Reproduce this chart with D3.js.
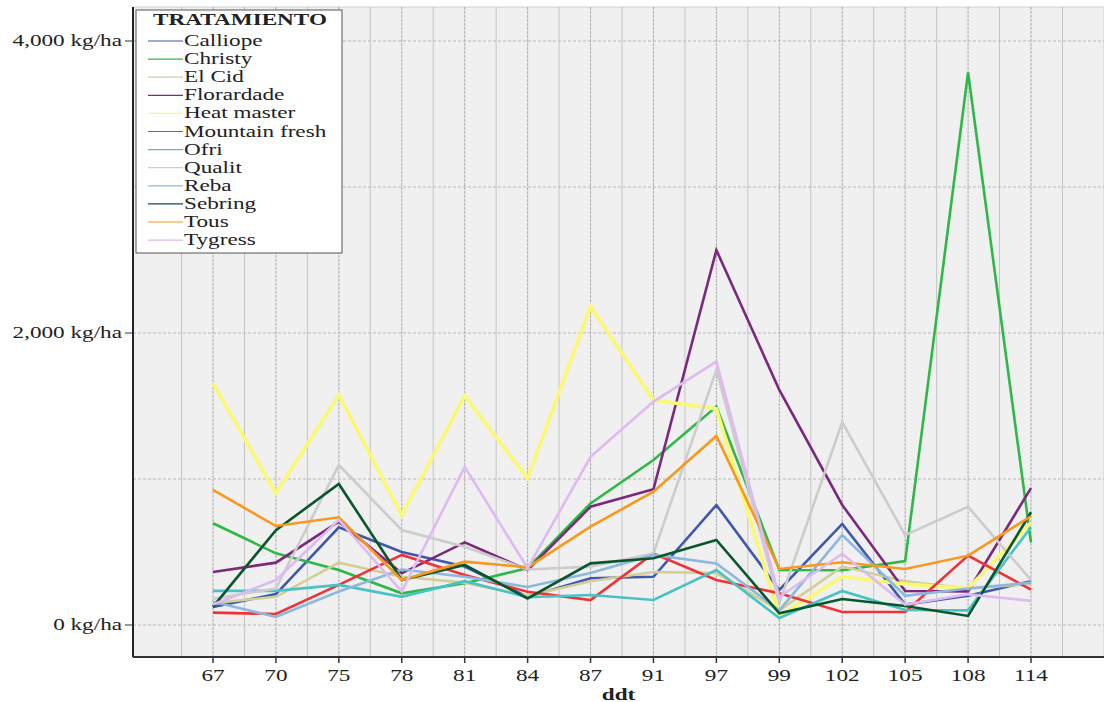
<!DOCTYPE html>
<html>
<head>
<meta charset="utf-8">
<script src="https://cdn.jsdelivr.net/npm/d3@7"></script>
<style>
  body { margin: 0; background: #fff; }
  text { font-family: "Liberation Serif", "Times New Roman", serif; }
</style>
</head>
<body>
<div id="chart"></div>
<script>
// ddt categories (x axis)
const ddt = ["67", "70", "75", "78", "81", "84", "87", "91", "97", "99", "102", "105", "108", "114"];

// kg/ha per tratamiento
const calliope     = [124, 212, 669, 500, 400, 192, 320, 330, 822, 240, 692, 140, 200, 300];
const christy      = [697, 491, 377, 217, 286, 390, 833, 1130, 1496, 377, 375, 438, 3784, 565];
const elCid        = [150, 193, 427, 330, 290, 200, 300, 363, 356, 100, 400, 300, 250, 280];
const florardade   = [363, 427, 708, 354, 566, 377, 810, 930, 2568, 1610, 822, 233, 230, 938];
const heatMaster   = [1655, 903, 1575, 753, 1570, 1005, 2180, 1541, 1480, 60, 330, 280, 250, 700];
const mountainFr   = [85, 75, 275, 480, 342, 228, 171, 490, 308, 218, 89, 89, 475, 243];
const ofri         = [234, 234, 275, 193, 300, 190, 205, 171, 377, 48, 233, 103, 100, 670];
const qualit       = [180, 250, 1096, 650, 536, 380, 400, 490, 1747, 150, 1390, 616, 810, 308];
const reba         = [160, 55, 229, 380, 330, 260, 356, 480, 422, 100, 616, 200, 250, 290];
const sebring      = [124, 650, 966, 308, 411, 182, 422, 457, 582, 80, 178, 130, 62, 772];
const tous         = [925, 678, 738, 308, 434, 395, 674, 913, 1295, 384, 430, 384, 475, 745];
const tygress      = [140, 308, 720, 229, 1083, 390, 1152, 1530, 1804, 192, 488, 140, 210, 165];

const names  = ["Calliope", "Christy", "El Cid", "Florardade", "Heat master", "Mountain fresh",
                "Ofri", "Qualit", "Reba", "Sebring", "Tous", "Tygress"];
const colors = ["#3E58AC", "#2EB848", "#D3CE97", "#7C287D", "#FBF873", "#EF3338",
                "#48C2C5", "#CCCCCC", "#8DB8DE", "#0A562C", "#F8981D", "#DDBAF1"];
const values = [calliope, christy, elCid, florardade, heatMaster, mountainFr,
                ofri, qualit, reba, sebring, tous, tygress];

const yTicks = [0, 2000, 4000];
const yGrid  = [0, 1000, 2000, 3000, 4000];

const W = 1104, H = 702;
const plot = { left: 133, top: 7, right: 1104, bottom: 657 };
const SX = 1.45; // the picture's text is stretched sideways

const series = names.map((n, i) => ({ name: n, color: colors[i],
  pts: ddt.map((c, j) => ({ c: c, v: values[i][j] })) }));

const svg = d3.select("#chart").append("svg")
  .attr("width", W).attr("height", H);

const x = d3.scalePoint().domain(ddt).range([213, 1031]);
const step = x.step();
const y = d3.scaleLinear().domain([0, 4000]).range([625, 41]);

// stretched text helper
function label(g, tx, ty, str, anchor, size, weight) {
  return g.append("text")
    .attr("transform", `translate(${tx},${ty}) scale(${SX},1)`)
    .attr("text-anchor", anchor)
    .attr("font-size", size)
    .attr("font-weight", weight || "normal")
    .attr("fill", "#222")
    .text(str);
}

// plot background
svg.append("rect")
  .attr("x", plot.left).attr("y", plot.top)
  .attr("width", plot.right - plot.left).attr("height", plot.bottom - plot.top)
  .attr("fill", "#F0F0F0")
  .attr("stroke", "#cfcfcf");

// vertical grid: every category and halfway between
const vg = svg.append("g");
for (let k = -1; k <= ddt.length * 2 - 1; k++) {
  const gx = x(ddt[0]) + k * step / 2;
  const onCat = k % 2 === 0;
  vg.append("line")
    .attr("x1", gx).attr("x2", gx)
    .attr("y1", plot.top).attr("y2", plot.bottom)
    .attr("stroke", onCat ? "#aaaaaa" : "#c4c4c4")
    .attr("stroke-width", 1)
    .attr("stroke-dasharray", onCat ? "3,1" : null);
}

// horizontal grid
svg.append("g").selectAll("line").data(yGrid).enter().append("line")
  .attr("x1", plot.left).attr("x2", plot.right)
  .attr("y1", d => y(d)).attr("y2", d => y(d))
  .attr("stroke", "#b8b8b8")
  .attr("stroke-dasharray", "3,2");

// lines (Heat master drawn a bit wider, as in the picture)
const line = d3.line().x(d => x(d.c)).y(d => y(d.v));
svg.append("g").selectAll("path").data(series).enter().append("path")
  .attr("d", d => line(d.pts))
  .attr("fill", "none")
  .attr("stroke", d => d.color)
  .attr("stroke-width", d => d.name === "Heat master" ? 3.6 : 2.6)
  .attr("stroke-linejoin", "miter");

// axes frame
svg.append("line")
  .attr("x1", plot.left).attr("x2", plot.left)
  .attr("y1", plot.top).attr("y2", plot.bottom)
  .attr("stroke", "#222").attr("stroke-width", 2);
svg.append("line")
  .attr("x1", plot.left).attr("x2", plot.right)
  .attr("y1", plot.bottom).attr("y2", plot.bottom)
  .attr("stroke", "#333").attr("stroke-width", 2);

// y ticks + labels
const ya = svg.append("g");
yTicks.forEach(t => {
  ya.append("line")
    .attr("x1", 125).attr("x2", plot.left)
    .attr("y1", y(t)).attr("y2", y(t))
    .attr("stroke", "#333");
  label(ya, 122, y(t) + 5, d3.format(",")(t) + " kg/ha", "end", 16);
});

// x ticks + labels
const xa = svg.append("g");
ddt.forEach(c => {
  xa.append("line")
    .attr("x1", x(c)).attr("x2", x(c))
    .attr("y1", plot.bottom).attr("y2", plot.bottom + 6)
    .attr("stroke", "#333").attr("stroke-width", 1.5);
  label(xa, x(c), 681, c, "middle", 16);
});
label(svg, (plot.left + plot.right) / 2, 700, "ddt", "middle", 16, "bold");

// legend
const lg = svg.append("g");
lg.append("rect")
  .attr("x", 136).attr("y", 10).attr("width", 206).attr("height", 243)
  .attr("fill", "#fff").attr("stroke", "#555").attr("stroke-width", 1);
label(lg, 240, 25, "TRATAMIENTO", "middle", 16, "bold");
series.forEach((s, i) => {
  const ly = 41 + i * 18.1;
  lg.append("line")
    .attr("x1", 148).attr("x2", 183)
    .attr("y1", ly).attr("y2", ly)
    .attr("stroke", s.color).attr("stroke-width", 1.2);
  label(lg, 184, ly + 5, s.name, "start", 16);
});
</script>
</body>
</html>
